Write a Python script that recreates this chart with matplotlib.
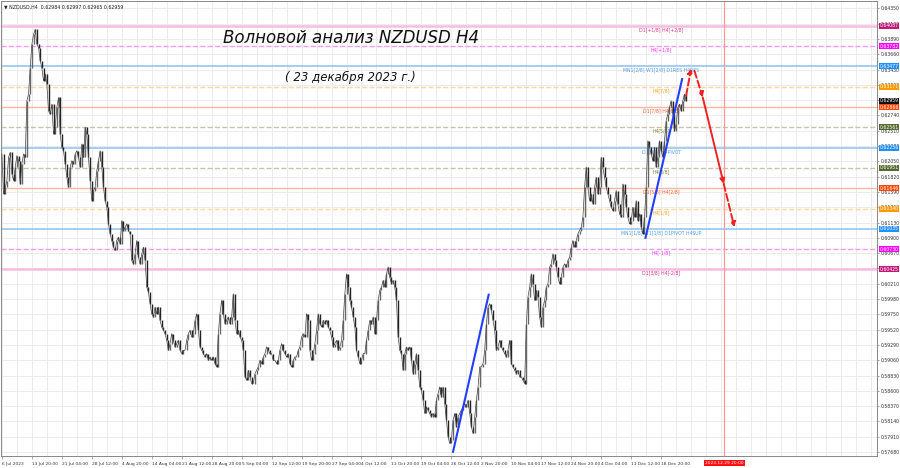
import matplotlib.pyplot as plt
import numpy as np

# closes, left to right (about 1.7 px apart)
closes = [
    0.62160, 0.61560, 0.61660, 0.61760, 0.62110, 0.62185, 0.61860, 0.61760, 0.61960, 0.62135,
    0.62060, 0.61710, 0.62010, 0.62160, 0.62110, 0.62960, 0.63060, 0.63460, 0.63810, 0.63960,
    0.64035, 0.63810, 0.63760, 0.63560, 0.63460, 0.63260, 0.63360, 0.63210, 0.62810, 0.62760,
    0.62910, 0.62460, 0.62560, 0.62860, 0.63010, 0.62460, 0.62260, 0.62210, 0.62010, 0.61810,
    0.61660, 0.61960, 0.62060, 0.62010, 0.62160, 0.62210, 0.62110, 0.61960, 0.62310, 0.62110,
    0.62560, 0.62460, 0.62110, 0.61760, 0.61460, 0.61610, 0.61660, 0.61910, 0.62060, 0.62210,
    0.61960, 0.61660, 0.61460, 0.61360, 0.61110, 0.60960, 0.60860, 0.60760, 0.60710, 0.60860,
    0.60910, 0.60810, 0.61160, 0.61010, 0.61060, 0.61110, 0.61010, 0.60960, 0.60560, 0.60510,
    0.60660, 0.60860, 0.60610, 0.60510, 0.60660, 0.60760, 0.60560, 0.60160, 0.60085, 0.59910,
    0.59760, 0.59710, 0.59860, 0.59760, 0.59860, 0.59660, 0.59560, 0.59510, 0.59460, 0.59360,
    0.59210, 0.59310, 0.59460, 0.59360, 0.59260, 0.59310, 0.59360, 0.59210, 0.59160, 0.59210,
    0.59210, 0.59360, 0.59460, 0.59510, 0.59410, 0.59460, 0.59660, 0.59760, 0.59510, 0.59260,
    0.59210, 0.59160, 0.59110, 0.59160, 0.59060, 0.59110, 0.59060, 0.59110, 0.59010, 0.58960,
    0.59460, 0.59760, 0.59960, 0.59760, 0.59610, 0.59660, 0.59710, 0.59610,
    0.59710, 0.60060, 0.59660, 0.59460, 0.59510, 0.59410, 0.59360, 0.59210, 0.58810, 0.58760,
    0.58910, 0.58810, 0.58710, 0.58710, 0.58860, 0.58910, 0.58960, 0.59060, 0.59010, 0.59110,
    0.59160, 0.59260, 0.59210, 0.59160, 0.59160, 0.59060, 0.59060, 0.59010, 0.59060, 0.59210,
    0.59310, 0.59210, 0.59160, 0.59110, 0.59160, 0.59010, 0.58960, 0.59060, 0.59110, 0.59110,
    0.59210, 0.59260, 0.59410, 0.59460, 0.59410, 0.59760, 0.59660, 0.59210, 0.59060, 0.59160,
    0.59310, 0.59510, 0.59760, 0.59610, 0.59560, 0.59660, 0.59610, 0.59660, 0.59560, 0.59510,
    0.59410, 0.59260, 0.59310, 0.59360, 0.59210, 0.59260, 0.59360, 0.59660, 0.60060, 0.60360,
    0.60160, 0.59960, 0.59860, 0.59710, 0.59560, 0.59210, 0.59110, 0.59010, 0.59060, 0.59160,
    0.59160, 0.59360, 0.59510, 0.59660, 0.59610, 0.59710, 0.59460, 0.59660, 0.59960, 0.60110,
    0.60160, 0.60260, 0.60160, 0.60360, 0.60460, 0.60310, 0.60210, 0.60260, 0.60160, 0.59960,
    0.59410, 0.59210, 0.59160, 0.58910, 0.59160, 0.59260, 0.59210, 0.59260, 0.59060, 0.58860,
    0.59010, 0.59160, 0.58910, 0.58660, 0.58610, 0.58460, 0.58260, 0.58360, 0.58310, 0.58260,
    0.58210, 0.58260, 0.58210, 0.58460, 0.58560, 0.58660, 0.58510, 0.58660, 0.58410, 0.58160,
    0.57910, 0.57810, 0.57860, 0.58160, 0.58260, 0.58060, 0.58210, 0.58260,
    0.58310, 0.58360, 0.58410, 0.58360, 0.58460, 0.58260, 0.58060, 0.57960, 0.58210, 0.58460,
    0.58660, 0.58960, 0.58960, 0.59010, 0.59210, 0.59610, 0.59860, 0.59910, 0.59810, 0.59660,
    0.59510, 0.59210, 0.59260, 0.59360, 0.59260, 0.59210, 0.59160, 0.59110, 0.59210, 0.59360,
    0.59010, 0.58960, 0.58910, 0.58860, 0.58910, 0.58810, 0.58810, 0.58760, 0.58710, 0.59610,
    0.60010, 0.60160, 0.60360, 0.60210, 0.59960, 0.60110, 0.60010, 0.59710, 0.59560, 0.59860,
    0.59960, 0.60160, 0.60210, 0.60460, 0.60510, 0.60660, 0.60560, 0.60460, 0.60310, 0.60210,
    0.60310, 0.60460, 0.60510, 0.60460, 0.60560, 0.60610, 0.60760, 0.60860, 0.60760, 0.60860,
    0.60960, 0.61010, 0.61060, 0.61210, 0.61660, 0.61960, 0.61660, 0.61460, 0.61560, 0.61410,
    0.61660, 0.61810, 0.61560, 0.61660, 0.62110, 0.61960, 0.61810, 0.61660, 0.61560, 0.61460,
    0.61360, 0.61310, 0.61460, 0.61610, 0.61410, 0.61260, 0.61210, 0.61710, 0.61560, 0.61360,
    0.61210, 0.61110, 0.61160, 0.61360, 0.61210, 0.61460, 0.61160, 0.61260, 0.61060, 0.60960,
    0.61210, 0.61660, 0.62360, 0.62260, 0.62160, 0.62060, 0.62260, 0.61960, 0.62110, 0.62360,
    0.62210, 0.62110, 0.62360, 0.62660, 0.62760, 0.62860, 0.62960, 0.62760, 0.62510, 0.62610,
    0.62860, 0.62910, 0.62810, 0.62960, 0.63060, 0.62959,
]

date_labels = [
    "6 Jul 2023", "13 Jul 20:00", "21 Jul 04:00", "28 Jul 12:00", "4 Aug 20:00",
    "14 Aug 04:00", "21 Aug 12:00", "28 Aug 20:00", "5 Sep 04:00", "12 Sep 12:00",
    "19 Sep 20:00", "27 Sep 04:00", "4 Oct 12:00", "11 Oct 20:00", "19 Oct 04:00",
    "26 Oct 12:00", "2 Nov 20:00", "10 Nov 04:00", "17 Nov 12:00", "24 Nov 20:00",
    "4 Dec 04:00", "11 Dec 12:00", "18 Dec 20:00",
]
label_step = 18
future_label = "2023.12.29 20:00"
future_idx = 434

price_ticks = [0.64350 - 0.0023 * k for k in range(30)]

levels = [0.64087, 0.63782, 0.63477, 0.63171, 0.62866, 0.62561, 0.62256,
          0.61951, 0.61646, 0.61340, 0.61035, 0.60730, 0.60425]
level_names = ["D1[+1/8] H4[+2/8]", "H4[+1/8]", "MN1[2/8] W1[2/8] D1RES H4RES",
               "H4[7/8]", "D1[7/8] H4[6/8]", "H4[5/8]", "D1[6/8] H4PIVOT",
               "H4[3/8]", "D1[5/8] H4[2/8]", "H4[1/8]",
               "MN1[1/8] W1[1/8] D1PIVOT H4SUP", "H4[-1/8]", "D1[3/8] H4[-2/8]"]
level_kind = ["pink", "magenta", "blue", "orange", "red", "olive", "blue",
              "olive", "red", "orange", "blue", "magenta", "pink"]

styles = {
    "pink":    dict(line="#f7bde0", ls="-",  lw=1.8, text="#d6338a", box="#c2187a"),
    "magenta": dict(line="#f59af5", ls="--", lw=1.0, text="#ff33ff", box="#ff00ff"),
    "blue":    dict(line="#8cc2f0", ls="-",  lw=1.1, text="#4f9ae0", box="#1e90ff"),
    "orange":  dict(line="#fdd6a6", ls="--", lw=1.0, text="#ff9f1a", box="#ff9900"),
    "red":     dict(line="#fbb7a0", ls="-",  lw=1.0, text="#ff5522", box="#ff4500"),
    "olive":   dict(line="#c9c3ad", ls="--", lw=1.0, text="#7a8a3a", box="#556b2f"),
}

wave_a = ([271.0, 292.4], [0.57685, 0.60046])
wave_b = ([386.6, 408.6], [0.60901, 0.63286])

fc_up = ([411, 414], [0.63036, 0.63445])
fc_down1 = ([416, 421], [0.63410, 0.63010])
fc_down2 = ([421, 433.6], [0.63010, 0.61711])
fc_down3 = ([433.6, 440], [0.61711, 0.61060])

last_price = 0.62959
header = "NZDUSD,H4  0.62984 0.62997 0.62965 0.62959"

fig = plt.figure(figsize=(9, 4.68), dpi=100)
ax = fig.add_axes([0.001, 1 - 456 / 468, 876 / 900, 455 / 468])
ax.set_xlim(-0.6, 525.6)
ax.set_ylim(0.57621, 0.64460)

# grid
for gx in np.arange(0, 526, label_step / 2):
    ax.axvline(gx, color="#ececec", lw=0.7, zorder=0)
for gy in price_ticks:
    ax.axhline(gy, color="#ececec", lw=0.7, zorder=0)

# level lines with labels
for lv, name, kind in zip(levels, level_names, level_kind):
    s = styles[kind]
    ax.axhline(lv, color=s["line"], ls=s["ls"], lw=s["lw"], zorder=1)
    ax.text(396, lv - 0.0002, name, color=s["text"], fontsize=3.3,
            ha="center", va="top", zorder=2)
    ax.text(1.003, lv, f"{lv:.5f}", transform=ax.get_yaxis_transform(),
            fontsize=3.3, color="white", va="center", ha="left", clip_on=False,
            bbox=dict(boxstyle="square,pad=0.12", fc=s["box"], ec="none"), zorder=5)

ax.text(1.003, last_price, f"{last_price:.5f}", transform=ax.get_yaxis_transform(),
        fontsize=3.3, color="white", va="center", ha="left", clip_on=False,
        bbox=dict(boxstyle="square,pad=0.12", fc="#111111", ec="none"), zorder=5)

# price bars
c = np.array(closes)
x = np.arange(len(c))
o = np.r_[c[0], c[:-1]]
up = c >= o
ax.vlines(x[up], o[up], c[up], color="#666666", lw=1.0, zorder=3)
ax.vlines(x[~up], c[~up], o[~up], color="#222222", lw=1.0, zorder=3)
ax.plot(x, c, color="#444444", lw=0.5, zorder=3)

# wave lines
ax.plot(*wave_a, color="#2040ff", lw=1.5, zorder=4)
ax.plot(*wave_b, color="#2040ff", lw=1.5, zorder=4)

# forecast arrows
for (xs, ys), ls in [(fc_up, "--"), (fc_down1, "--"), (fc_down2, "-"), (fc_down3, "--")]:
    ax.annotate("", xy=(xs[1], ys[1]), xytext=(xs[0], ys[0]),
                arrowprops=dict(arrowstyle="-|>", color="#ee2222", lw=1.4,
                                ls=ls, mutation_scale=7, shrinkA=0, shrinkB=0),
                zorder=6)

ax.axvline(future_idx, color="#ff9a9a", lw=0.9, zorder=1)

# axes text
ax.yaxis.tick_right()
ax.set_yticks(price_ticks)
ax.set_yticklabels([f"{p:.5f}" for p in price_ticks], fontsize=3.3, color="#333333")
ax.tick_params(axis="y", length=1.5, pad=1.5, width=0.5, color="#888888")
ax.set_xticks(np.arange(len(date_labels)) * label_step)
ax.set_xticklabels(date_labels, fontsize=3.2, color="#333333", ha="left")
ax.tick_params(axis="x", length=2, pad=2, width=0.5, color="#888888")
ax.text(future_idx, -0.011, future_label, transform=ax.get_xaxis_transform(),
        fontsize=3.2, color="white", ha="center", va="top", clip_on=False,
        bbox=dict(boxstyle="square,pad=0.2", fc="#ff1111", ec="none"))
for sp in ax.spines.values():
    sp.set_color("#888888")
    sp.set_linewidth(0.7)

ax.text(0.003, 0.993, "\u25bc " + header, transform=ax.transAxes, fontsize=3.4,
        color="#222222", ha="left", va="top")

ax.text(210, 0.64460 - 37 / 6667, "Волновой анализ NZDUSD H4", fontsize=12,
        style="italic", color="#111111", ha="center", va="center", zorder=7)
ax.text(209.4, 0.64460 - 77 / 6667, "( 23 декабря 2023 г.)", fontsize=8.5,
        style="italic", color="#111111", ha="center", va="center", zorder=7)

fig.savefig("out.png", dpi=100)
